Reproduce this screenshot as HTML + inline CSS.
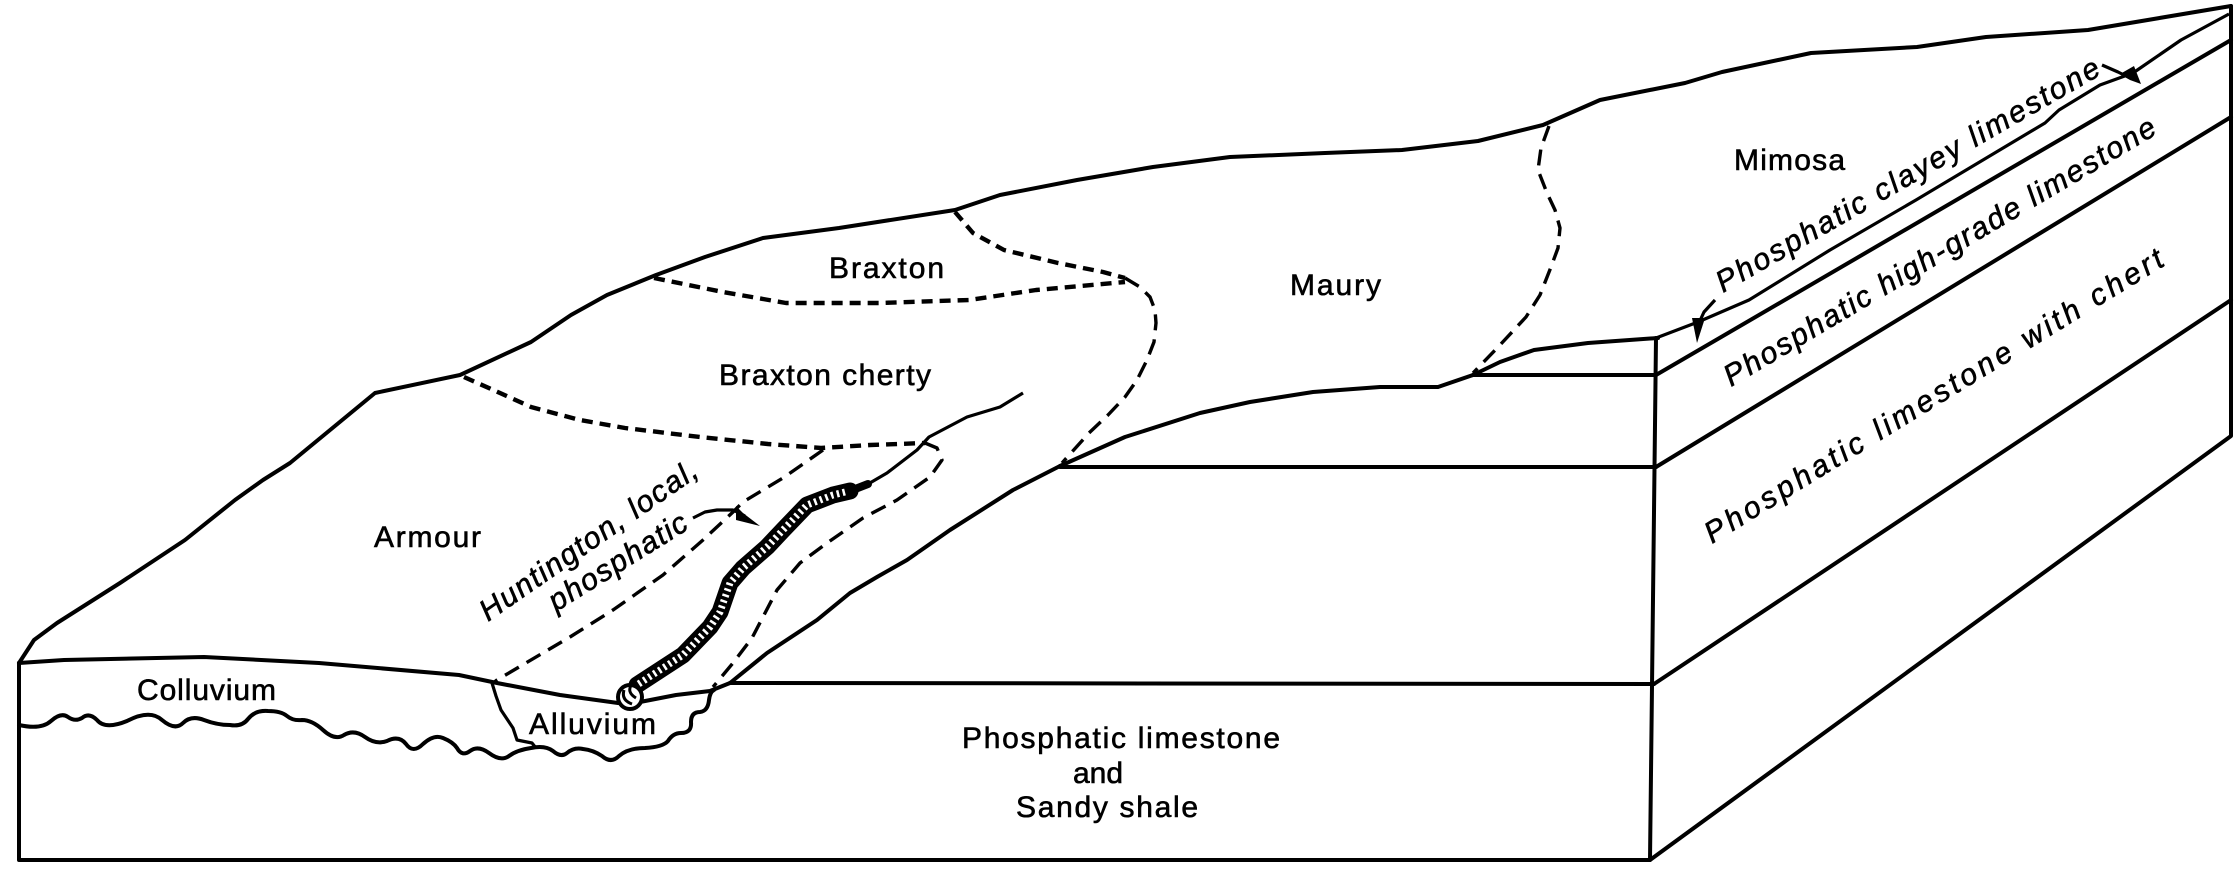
<!DOCTYPE html>
<html><head><meta charset="utf-8">
<style>
html,body{margin:0;padding:0;background:#fff;width:2237px;height:876px;overflow:hidden}
svg{display:block}
text{font-family:"Liberation Sans",sans-serif;font-size:30px;fill:#000;stroke:#000;stroke-width:.6}
.i{font-style:italic}
.s{fill:none;stroke:#000;stroke-width:4;stroke-linejoin:round;stroke-linecap:round}
.t{fill:none;stroke:#000;stroke-width:3.2;stroke-linejoin:round}
.d{fill:none;stroke:#000;stroke-width:4.4;stroke-dasharray:11 7;stroke-linejoin:round}
.n{fill:none;stroke:#000;stroke-width:3.4;stroke-dasharray:16 9;stroke-linejoin:round}
</style></head><body>
<svg width="2237" height="876" viewBox="0 0 2237 876" xmlns="http://www.w3.org/2000/svg">
<rect width="2237" height="876" fill="#fff"/>
<!-- block outline -->
<path class="s" d="M19 663V860H1650L2231 436V6"/>
<path class="s" d="M1656 338L1650 860"/>
<!-- top ridge -->
<polyline class="s" points="19,663 34,640 57,623 120,583 185,540 235,500 263,480 290,463 375,393 460,375 531,342 571,315 607,295 656,275 705,257 763,238 839,228 955,210 1000,195 1077,180 1153,167 1230,157 1325,153 1402,150 1478,141 1543,125 1600,100 1685,83 1722,72 1811,53 1917,47 1986,37 2088,30 2231,6"/>
<!-- right face layers -->
<polyline class="t" points="1656,338 1698,322 1749,300 1830,250 1916,200 2045,123 2059,110 2100,85 2133,73 2181,40 2229,14"/>
<polyline class="s" points="1656,375 2231,40"/>
<polyline class="s" points="1656,467 2231,117"/>
<polyline class="s" points="1654,684 2231,300"/>
<!-- horizontal benches -->
<polyline class="s" points="1473,375 1656,375"/>
<polyline class="s" points="1060,467 1656,467"/>
<polyline class="s" points="730,683 1654,684"/>
<!-- bench curves -->
<polyline class="s" points="1473,375 1500,362 1534,350 1588,343 1658,338"/>
<polyline class="s" points="1060,466 1125,437 1200,413 1250,402 1313,392 1380,387 1438,387 1473,375"/>
<polyline class="s" points="730,683 767,653 817,620 850,593 877,577 907,560 950,530 1013,490 1060,466"/>
<!-- stream upper line -->
<polyline class="t" points="1023,393 1000,407 967,417 929,437 917,450 887,473 863,487"/>
<!-- colluvium surface -->
<polyline class="s" points="19,663 64,660 204,657 319,663 459,675 497,683 560,695 618,703"/>
<polyline class="s" points="640,702 676,695 710,691 730,683"/>
<!-- wavy -->
<path class="s" d="M19 725Q41 730 51 721Q61 712 68 717Q75 722 82 718Q89 712 97 720Q105 730 127 721Q150 709 162 720Q175 731 183 723Q191 715 204 720Q217 725 230 725Q242 727 248 719Q255 710 268 711Q281 711 287 716Q293 721 302 720Q312 720 323 730Q335 741 344 735Q354 729 365 737Q376 745 387 741Q399 735 406 744Q413 754 423 744Q434 734 443 738Q453 742 457 748Q462 757 470 751Q478 745 489 753Q501 762 509 756Q517 750 531 748Q545 745 553 751Q561 758 567 753Q574 747 583 749Q593 750 602 756Q611 764 619 756Q628 748 645 748Q663 747 668 741Q673 733 681 733Q692 733 691 722Q691 712 700 712Q708 711 709 700Q710 692 714 690"/>
<polyline class="t" points="492,683 496,696 501,710 513,728 517,740 532,743 536,748"/>
<!-- hatched band -->
<polyline points="868,484 850,491" fill="none" stroke="#000" stroke-width="8" stroke-linecap="round"/>
<polyline points="850,491 833,495 807,505 783,530 767,547 743,568 730,583 720,612 710,627 683,655 660,670 637,685" fill="none" stroke="#000" stroke-width="17" stroke-linejoin="round" stroke-linecap="round"/>
<polyline points="845,492 833,495 807,505 783,530 767,547 743,568 730,583 720,612 710,627 683,655 660,670 637,685" fill="none" stroke="#fff" stroke-width="7" stroke-dasharray="2.5 3.5"/>
<circle cx="630" cy="697" r="12" fill="#fff" stroke="#000" stroke-width="4"/>
<path d="M624 690Q621 700 632 704M632 684Q626 692 636 698" fill="none" stroke="#000" stroke-width="3"/>
<!-- dashed -->
<polyline class="d" points="464,377 500,393 531,407 580,420 625,428 700,437 768,444 821,448 870,445 925,443"/>
<polyline class="d" points="654,278 723,292 786,303 879,303 969,300 1036,290 1125,282"/>
<polyline class="d" points="955,212 973,233 1004,250 1058,263 1103,272 1125,278"/>
<polyline class="n" points="1125,278 1140,287 1150,297 1155,310 1156,323 1154,342 1147,360 1137,380 1125,397 1108,415 1089,433 1062,463"/>
<polyline class="n" points="1549,126 1541,148 1538,170 1547,193 1555,210 1560,228 1558,248 1551,267 1540,295 1526,317 1500,345 1473,373"/>
<polyline class="n" points="823,450 783,478 743,502 733,512 703,540 663,575 613,610 570,637 497,680 492,684"/>
<polyline class="n" points="925,443 937,448 942,460 930,477 897,500 863,518 827,543 800,563 777,590 752,638 733,663 713,687"/>
<!-- arrows -->
<polyline class="t" points="693,518 705,512 717,510 733,510 745,516"/>
<path d="M736,506L743,513L760,526L736,520Z" fill="#000"/>
<polyline class="t" points="2102,65 2118,72 2130,78"/>
<path d="M2120,74L2134,66L2141,84L2130,80Z" fill="#000"/>
<polyline class="t" points="1715,300 1704,312 1698,325"/>
<path d="M1692,318L1705,318L1697,343Z" fill="#000"/>
<!-- labels -->
<text x="374" y="547" textLength="107">Armour</text>
<text x="137" y="700" textLength="139">Colluvium</text>
<text x="529" y="734" textLength="127">Alluvium</text>
<text x="962" y="748" textLength="318">Phosphatic limestone</text>
<text x="1073" y="783" textLength="50">and</text>
<text x="1016" y="817" textLength="182">Sandy shale</text>
<text x="829" y="278" textLength="115">Braxton</text>
<text x="719" y="385" textLength="212">Braxton cherty</text>
<text x="1290" y="295" textLength="91">Maury</text>
<text x="1734" y="170" textLength="111">Mimosa</text>
<text class="i" transform="translate(488,622) rotate(-34.7)" textLength="258">Huntington, local,</text>
<text class="i" transform="translate(556,612) rotate(-32)" textLength="158">phosphatic</text>
<text class="i" transform="translate(1723,293) rotate(-30)" textLength="438">Phosphatic clayey limestone</text>
<text class="i" transform="translate(1731,387) rotate(-30.7)" textLength="497">Phosphatic high-grade limestone</text>
<text class="i" transform="translate(1712,544) rotate(-31.6)" textLength="533">Phosphatic limestone with chert</text>
</svg>
</body></html>
